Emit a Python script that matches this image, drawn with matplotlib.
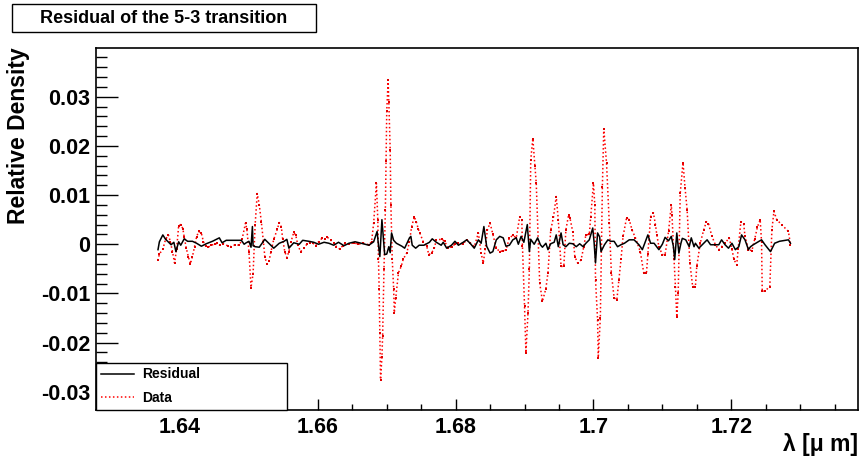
import matplotlib
matplotlib.use("Agg")
import matplotlib.pyplot as plt
from matplotlib.patches import Rectangle
from matplotlib.ticker import MultipleLocator, FixedLocator

plt.rcParams['font.family'] = ['Liberation Sans', 'DejaVu Sans']

title = "Residual of the 5-3 transition"
xlabel = "λ [μ m]"
ylabel = "Relative Density"

# Data (red dotted) series: wavelength [um] and relative density [x1e-3]
data_x = [1.6368, 1.6370, 1.6375, 1.6379, 1.6383, 1.6386, 1.6389, 1.6392, 1.6395, 1.6398,
          1.6401, 1.6404, 1.6406, 1.6409, 1.6412, 1.6415, 1.6418, 1.6421, 1.6424, 1.6427,
          1.6431, 1.6434, 1.6437, 1.6441, 1.6445, 1.6450, 1.6454, 1.6458, 1.6463, 1.6469,
          1.6474, 1.6480, 1.6486, 1.6490, 1.6495, 1.6497, 1.6500, 1.6503, 1.6506, 1.6509,
          1.6512, 1.6515, 1.6518, 1.6521, 1.6523, 1.6526, 1.6529, 1.6532, 1.6536, 1.6541,
          1.6544, 1.6547, 1.6549, 1.6552, 1.6555, 1.6558, 1.6561, 1.6565, 1.6568, 1.6571,
          1.6575, 1.6580, 1.6584, 1.6588, 1.6593, 1.6597, 1.6601, 1.6606, 1.6610, 1.6614,
          1.6619, 1.6623, 1.6627, 1.6632, 1.6636, 1.6640, 1.6645, 1.6652, 1.6659, 1.6666,
          1.6674, 1.6678, 1.6681, 1.6685, 1.6687, 1.6688, 1.6689, 1.6690, 1.6691, 1.6693,
          1.6694, 1.6696, 1.6698, 1.6699, 1.6700, 1.6702, 1.6703, 1.6705, 1.6706, 1.6708,
          1.6710, 1.6711, 1.6713, 1.6717, 1.6721, 1.6724, 1.6729, 1.6733, 1.6736, 1.6740,
          1.6743, 1.6746, 1.6748, 1.6753, 1.6758, 1.6761, 1.6765, 1.6769, 1.6772, 1.6780,
          1.6784, 1.6789, 1.6794, 1.6799, 1.6804, 1.6811, 1.6816, 1.6821, 1.6827, 1.6833,
          1.6837, 1.6840, 1.6843, 1.6846, 1.6850, 1.6854, 1.6859, 1.6864, 1.6869, 1.6873,
          1.6878, 1.6883, 1.6888, 1.6893, 1.6896, 1.6897, 1.6900, 1.6902, 1.6905, 1.6907,
          1.6909, 1.6912, 1.6915, 1.6917, 1.6922, 1.6926, 1.6931, 1.6934, 1.6938, 1.6942,
          1.6946, 1.6949, 1.6953, 1.6957, 1.6960, 1.6964, 1.6966, 1.6970, 1.6973, 1.6977,
          1.6982, 1.6986, 1.6989, 1.6994, 1.6996, 1.7000, 1.7002, 1.7003, 1.7006, 1.7007,
          1.7010, 1.7013, 1.7015, 1.7019, 1.7023, 1.7026, 1.7030, 1.7034, 1.7037, 1.7040,
          1.7043, 1.7048, 1.7052, 1.7056, 1.7061, 1.7068, 1.7073, 1.7077, 1.7079, 1.7083,
          1.7087, 1.7090, 1.7092, 1.7095, 1.7100, 1.7104, 1.7109, 1.7113, 1.7114, 1.7117,
          1.7119, 1.7121, 1.7123, 1.7126, 1.7130, 1.7133, 1.7136, 1.7140, 1.7144, 1.7148,
          1.7150, 1.7155, 1.7160, 1.7164, 1.7167, 1.7172, 1.7177, 1.7182, 1.7186, 1.7191,
          1.7197, 1.7201, 1.7204, 1.7208, 1.7210, 1.7214, 1.7218, 1.7220, 1.7225, 1.7230,
          1.7234, 1.7238, 1.7242, 1.7244, 1.7245, 1.7249, 1.7256, 1.7259, 1.7262, 1.7266,
          1.7273, 1.7283, 1.7286]
data_y = [-3.3, -2.0, -1.0, 1.0, 1.9, 0.5, -1.5, -3.8, -1.0, 3.8,
          4.0, 3.2, 1.5, -0.8, -2.5, -4.0, -2.5, -0.5, 1.5, 2.6,
          2.2, 0.5, -0.3, -0.6, -0.2, 0.0, 0.2, -0.2, 0.1, -0.3,
          -0.5, -0.1, -0.2, 1.0, 4.3, 3.0, -1.5, -8.8, -6.0, 4.0,
          10.3, 8.0, 4.5, 0.5, -2.5, -4.0, -3.5, -1.5, 1.0, 3.0,
          4.4, 3.5, 1.0, -1.5, -2.7, -1.5, 0.5, 2.4, 1.8, -0.2,
          -1.5, -0.8, 0.0, 0.3, 0.2, -0.3, 0.5, 1.2, 1.0, 1.4,
          0.8, 0.3, -0.5, -1.0, -0.3, 0.2, 0.0, 0.3, 0.0, 0.2,
          -0.1, 0.5, 4.3, 12.4, 5.0, -3.1, -9.2, -18.0, -27.5, -23.0,
          -18.7, -5.0, 7.0, 17.0, 27.0, 33.4, 29.0, 19.2, 8.0, -3.1,
          -9.0, -13.9, -11.0, -5.8, -4.5, -3.0, -1.8, 0.5, 3.5, 5.6,
          4.5, 3.0, 2.3, 0.5, -0.4, -2.1, -1.8, -0.8, 0.9, 1.0,
          0.6, -0.8, -0.5, 0.0, 0.2, 0.1, 0.9, 0.3, -0.5, 2.3,
          -1.8, -3.8, -1.0, 2.9, 4.3, 2.0, -0.8, -1.5, -1.3, -1.2,
          1.3, 1.8, 1.3, 5.6, 5.0, -0.4, -12.6, -22.1, -14.0, -5.0,
          17.1, 21.5, 16.0, 12.4, -7.9, -11.6, -9.0, -5.8, 2.9, 5.5,
          9.7, 5.0, -4.5, -4.5, 2.9, 6.0, 5.3, 2.5, -2.5, -3.8,
          -3.2, -0.5, 1.9, 2.0, 5.5, 12.4, 8.0, -7.2, -15.3, -23.1,
          -15.0, 11.7, 23.5, 16.5, 4.3, -5.8, -10.9, -11.3, -7.2, -3.1,
          1.6, 5.3, 5.0, 2.9, 1.3, -1.5, -5.8, -5.8, -2.0, 5.6,
          6.4, 4.0, 1.9, -0.5, -2.1, -2.1, 2.6, 8.0, 6.0, -3.1,
          -8.6, -14.8, -10.0, 10.4, 16.6, 11.4, 7.0, -3.8, -8.6, -8.6,
          -4.5, 0.2, 2.9, 4.6, 4.2, 1.6, -0.1, -1.1, -0.5, 0.2,
          1.3, -1.0, -3.1, -4.2, -1.0, 4.6, 4.2, 1.6, -1.1, -1.3,
          1.0, 3.5, 5.0, 0.5, -9.6, -9.5, -8.6, 2.9, 6.7, 5.0,
          4.0, 2.6, -0.1]

# Residual (black) series: wavelength [um] and residual [x1e-3]
res_x = [1.6368, 1.6370, 1.6375, 1.6379, 1.6382, 1.6387, 1.6391, 1.6394, 1.6398, 1.6401,
         1.6406, 1.6411, 1.6418, 1.6424, 1.6431, 1.6438, 1.6447, 1.6457, 1.6461, 1.6467,
         1.6471, 1.6483, 1.6489, 1.6493, 1.6496, 1.6500, 1.6503, 1.6505, 1.6506, 1.6509,
         1.6515, 1.6523, 1.6536, 1.6544, 1.6551, 1.6555, 1.6558, 1.6565, 1.6573, 1.6578,
         1.6587, 1.6594, 1.6601, 1.6609, 1.6616, 1.6623, 1.6630, 1.6638, 1.6645, 1.6654,
         1.6663, 1.6674, 1.6681, 1.6686, 1.6688, 1.6690, 1.6693, 1.6696, 1.6697, 1.6700,
         1.6703, 1.6705, 1.6707, 1.6710, 1.6714, 1.6722, 1.6726, 1.6733, 1.6735, 1.6737,
         1.6742, 1.6747, 1.6754, 1.6762, 1.6766, 1.6772, 1.6779, 1.6782, 1.6787, 1.6794,
         1.6799, 1.6804, 1.6811, 1.6816, 1.6821, 1.6827, 1.6833, 1.6837, 1.6841, 1.6845,
         1.6850, 1.6854, 1.6859, 1.6864, 1.6869, 1.6873, 1.6878, 1.6883, 1.6888, 1.6891,
         1.6895, 1.6899, 1.6904, 1.6907, 1.6909, 1.6914, 1.6919, 1.6923, 1.6926, 1.6931,
         1.6934, 1.6938, 1.6943, 1.6946, 1.6949, 1.6953, 1.6956, 1.6960, 1.6965, 1.6970,
         1.6975, 1.6980, 1.6985, 1.6989, 1.6994, 1.6999, 1.7001, 1.7003, 1.7006, 1.7009,
         1.7011, 1.7016, 1.7021, 1.7025, 1.7030, 1.7035, 1.7040, 1.7045, 1.7052, 1.7059,
         1.7066, 1.7071, 1.7079, 1.7083, 1.7088, 1.7095, 1.7100, 1.7104, 1.7109, 1.7113,
         1.7116, 1.7118, 1.7121, 1.7124, 1.7127, 1.7129, 1.7134, 1.7139, 1.7142, 1.7146,
         1.7148, 1.7153, 1.7158, 1.7165, 1.7170, 1.7177, 1.7182, 1.7186, 1.7191, 1.7196,
         1.7201, 1.7206, 1.7211, 1.7215, 1.7220, 1.7225, 1.7228, 1.7232, 1.7244, 1.7249,
         1.7257, 1.7263, 1.7270, 1.7283, 1.7286]
res_y = [-1.1, 0.5, 1.9, 1.0, 0.6, -0.1, 0.4, -1.5, 0.5, -0.2,
         1.1, 0.6, 0.6, 0.2, -0.4, 0.1, 0.6, 1.3, 0.3, 0.8,
         0.8, 0.8, 0.8, 0.0, 0.3, 0.6, -0.6, 3.6, -0.3, -0.5,
         -0.6, 1.0, -0.8, 0.2, 0.6, 1.0, -0.8, 0.3, 0.0, 0.8,
         0.6, 0.4, 0.0, 0.4, 0.2, -0.2, 0.4, -0.3, 0.2, 0.5,
         0.2, -0.2, 0.5, 2.6, -0.2, -2.5, 5.0, -0.2, -2.1, -2.0,
         -0.5, -1.7, 2.3, 0.8, 0.2, -0.4, -0.8, 1.3, 1.6, -0.2,
         -0.8, -0.2, -0.2, 0.4, 1.1, 0.4, -0.2, 0.4, -0.8, -0.2,
         0.6, -0.2, 0.4, 0.9, 0.2, -0.8, 0.9, 0.2, 3.6, -0.4,
         -1.8, -1.5, 0.9, 1.6, 1.3, -0.4, -0.2, 0.9, 1.3, 0.0,
         1.6, 0.4, 4.0, -1.5, 1.0, 0.0, 1.3, -0.1, -0.6, 0.2,
         -1.1, 0.1, 0.4, 1.9, -0.5, 2.3, -0.1, -0.5, 0.2, 0.1,
         -0.5, 0.1, -0.5, 0.2, 0.9, 3.3, 0.3, -3.8, 2.3, 1.5,
         -1.5, -0.1, 0.9, 0.6, 0.6, -0.5, -0.1, 0.2, 0.9, 0.9,
         -0.1, -1.1, 1.9, 0.2, 0.2, -1.1, 0.0, 1.4, 0.7, 1.6,
         -0.4, -3.1, 2.3, -1.8, 0.2, 1.2, 0.9, -0.5, 1.3, -0.5,
         0.2, -0.8, -0.1, 0.9, -0.1, -0.1, -0.1, 0.9, -0.1, -0.8,
         0.2, -1.1, -0.5, 1.9, 0.9, -1.1, -0.5, -0.1, 0.9, -0.1,
         -1.5, 0.2, 0.6, 0.9, 0.2]

xticks = [1.64, 1.66, 1.68, 1.70, 1.72]
xtick_labels = ["1.64", "1.66", "1.68", "1.7", "1.72"]
yticks = [-0.03, -0.02, -0.01, 0.0, 0.01, 0.02, 0.03]
ytick_labels = ["-0.03", "-0.02", "-0.01", "0", "0.01", "0.02", "0.03"]

W, H = 859, 459
fig = plt.figure(figsize=(W / 100, H / 100), dpi=100)
ax = fig.add_axes([96 / W, 1 - 410 / H, 762 / W, 362 / H])

scale = 1e-3
dy = [v * scale for v in data_y]
ry = [v * scale for v in res_y]

ax.plot(res_x, ry, color='black', lw=1.1, label='Residual', zorder=3)
ax.plot(data_x, dy, color='red', lw=1.1, linestyle=(0, (1, 1.6)), label='Data', zorder=2)
ax.plot(data_x, dy, linestyle='none', marker='s', markersize=2.0, color='#e00000',
        markeredgewidth=0, zorder=2)

ax.set_xlim(1.6278, 1.7384)
ax.set_ylim(-0.0337, 0.0399)

ax.xaxis.set_major_locator(FixedLocator(xticks))
ax.set_xticklabels(xtick_labels)
ax.xaxis.set_minor_locator(MultipleLocator(0.005))
ax.yaxis.set_major_locator(FixedLocator(yticks))
ax.set_yticklabels(ytick_labels)
ax.yaxis.set_minor_locator(MultipleLocator(0.002))

ax.tick_params(axis='both', which='both', direction='in', top=False, right=False)
ax.tick_params(axis='y', which='major', length=16, width=1, pad=4)
ax.tick_params(axis='y', which='minor', length=8, width=1)
ax.tick_params(axis='x', which='major', length=8, width=1, pad=5)
ax.tick_params(axis='x', which='minor', length=4, width=1)
for lab in ax.get_xticklabels() + ax.get_yticklabels():
    lab.set_fontsize(15.5)
    lab.set_fontweight('bold')
for s in ax.spines.values():
    s.set_linewidth(1.2)
    s.set_color('black')

leg = ax.legend(loc='lower left', bbox_to_anchor=(0, 0, 191 / 762, 0.12), mode='expand',
                borderaxespad=0, fancybox=False, edgecolor='black', framealpha=1,
                prop={'weight': 'bold', 'size': 10}, handlelength=2.4,
                handletextpad=0.6, labelspacing=0.7, borderpad=0.35)
leg.get_frame().set_linewidth(1.0)

fig.text(19 / W, 1 - 47 / H, ylabel, rotation=90, ha='center', va='top',
         fontsize=16.5, fontweight='bold')
fig.text(858 / W, 1 - 444 / H, xlabel, ha='right', va='center',
         fontsize=16.5, fontweight='bold')

fig.patches.append(Rectangle((12 / W, 1 - 32 / H), 304 / W, 28 / H,
                             transform=fig.transFigure, facecolor='white',
                             edgecolor='black', lw=1.0))
fig.text(164 / W, 1 - 18.5 / H, title, ha='center', va='center',
         fontsize=13, fontweight='bold')

fig.savefig('out.png', dpi=100)
